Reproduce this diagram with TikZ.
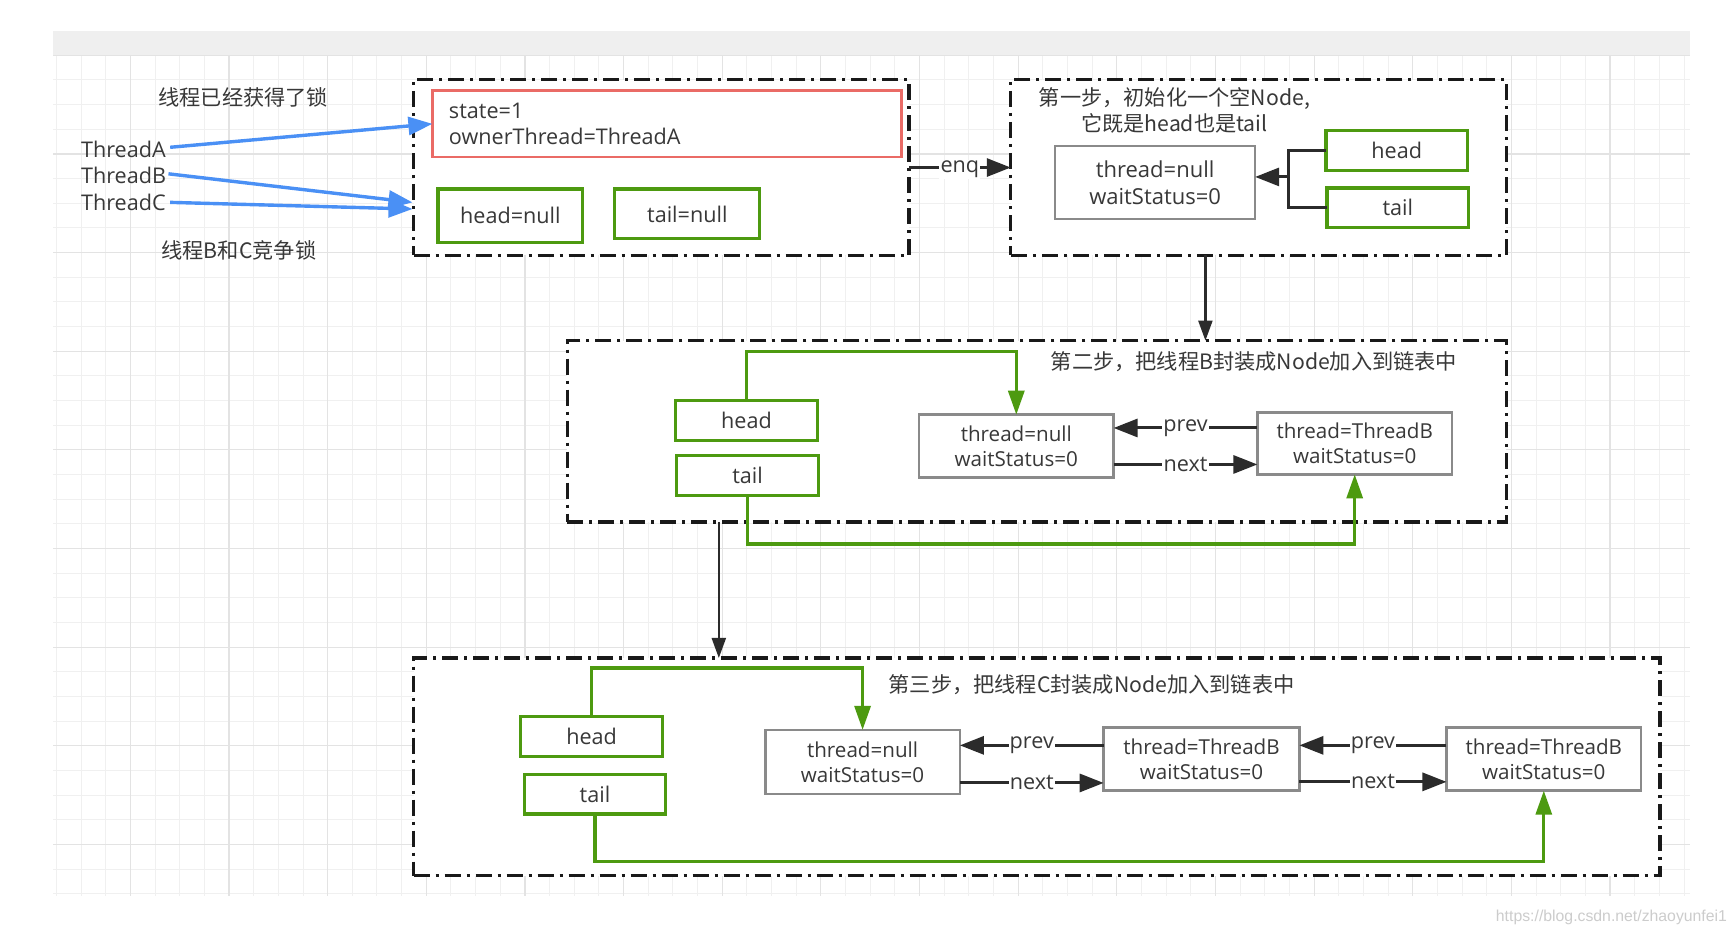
\documentclass[tikz,border=0pt]{standalone}
\usepackage{fontspec}
\setmainfont{Open Sans}
\newfontfamily\cjk{Noto Sans CJK SC}
\newfontfamily\wmfont{Liberation Sans}
\usetikzlibrary{arrows.meta,calc}
\definecolor{gridminor}{HTML}{F0F0F0}
\definecolor{gridmajor}{HTML}{E3E3E3}
\definecolor{barcol}{HTML}{EFEFEF}
\definecolor{txt}{HTML}{383838}
\definecolor{grn}{HTML}{4D9A10}
\definecolor{redb}{HTML}{EA6B66}
\definecolor{nodeg}{HTML}{8A8A8A}
\definecolor{blu}{HTML}{4A90F5}
\definecolor{lnk}{HTML}{2B2B2B}
\begin{document}
\begin{tikzpicture}[x=0.5529pt,y=-0.5529pt,
  sz/.style 2 args={minimum width={#1*0.5529pt},minimum height={#2*0.5529pt}},
  lbl/.style={text=txt,inner sep=0pt,font=\fontsize{10.8}{13.3}\selectfont},
  zh/.style={text=txt,inner sep=0pt,align=center,font=\cjk\fontsize{10.6}{13.3}\selectfont},
  grp/.style={draw=black!90,fill=white,line width=1.6pt,dash pattern=on 8pt off 3pt on 1.5pt off 3pt,inner sep=0pt,outer sep=0pt},
  gbox/.style={draw=grn,line width=1.6pt,fill=white,text=txt,inner sep=0pt,outer sep=0pt,font=\fontsize{10.8}{13}\selectfont},
  nbox/.style={draw=nodeg,line width=1.3pt,fill=white,text=txt,align=center,inner sep=0pt,outer sep=0pt,font=\fontsize{10.3}{12.4}\selectfont},
  blk/.style={draw=lnk,line width=1.5pt,-{Triangle[length=12pt,width=9pt]}},
  dn/.style={draw=lnk,line width=1.1pt,-{Triangle[length=10pt,width=7pt]}},
  plainln/.style={draw=lnk,line width=1.5pt},
  garr/.style={draw=grn,line width=1.6pt,-{Triangle[length=12pt,width=8pt]}},
  barr/.style={draw=blu,line width=1.7pt,-{Triangle[length=12pt,width=9pt]}},
  elbl/.style={fill=white,text=txt,inner sep=0.6pt,font=\fontsize{10.8}{13}\selectfont},
]
\useasboundingbox (0,0) rectangle (1568,847.3);
% background
\fill[white] (0,0) rectangle (1568,847.3);
\fill[barcol] (48,28) rectangle (1528,50);
\foreach \i in {0,...,66} \draw[gridminor,line width=0.5pt] ({51+22.3*\i},50) -- ({51+22.3*\i},810);
\foreach \j in {0,...,34} \draw[gridminor,line width=0.5pt] (48,{50+22.3*\j}) -- (1528,{50+22.3*\j});
\foreach \k in {0,...,15} \draw[gridmajor,line width=0.6pt] ({117.9+89.2*\k},50) -- ({117.9+89.2*\k},810);
\foreach \k in {0,...,8} \draw[gridmajor,line width=0.6pt] (48,{50+89.2*\k}) -- (1528,{50+89.2*\k});

% group boxes
\node[grp,sz={448}{159}] (g0) at (598,151.5) {};
\node[grp,sz={448}{159}] (g1) at (1138,151.5) {};
\node[grp,sz={849}{164}] (g2) at (937.5,390) {};
\node[grp,sz={1127}{197}] (g3) at (937.5,693.5) {};

% left labels
\node[zh] (lk1) at (220,88) {线程已经获得了锁};
\node[lbl,anchor=west] (thA) at (73,135) {ThreadA};
\node[lbl,anchor=west] (thB) at (73,159) {ThreadB};
\node[lbl,anchor=west] (thC) at (73,183) {ThreadC};
\node[zh] (lk2) at (216,226) {线程B和C竞争锁};

% box 0
\node[draw=redb,line width=1.3pt,fill=white,text=txt,sz={424}{60},align=left,text width={394*0.5529pt},inner xsep={15*0.5529pt},inner ysep=0pt,outer sep=0pt,font=\fontsize{10.8}{13.3}\selectfont] (st) at (603,112) {state=1\\ownerThread=ThreadA};
\node[gbox,sz={131}{48}] (hn) at (461.5,195) {head=null};
\node[gbox,sz={131}{45}] (tn) at (621.5,193.5) {tail=null};

% box 1
\node[zh] (tt1) at (1062,100) {第一步，初始化一个空Node,\\它既是head也是tail};
\node[nbox,sz={181}{66},font=\fontsize{11}{13.3}\selectfont] (n1) at (1044.5,165) {thread=null\\waitStatus=0};
\node[gbox,sz={128}{36}] (h1) at (1263,136) {head};
\node[gbox,sz={128}{36}] (t1) at (1264,188) {tail};

% box 2
\node[zh] (tt2) at (1134,327) {第二步，把线程B封装成Node加入到链表中};
\node[gbox,sz={128}{36}] (h2) at (675,380) {head};
\node[gbox,sz={128}{36}] (t2) at (676,430) {tail};
\node[nbox,sz={176}{57}] (n2a) at (919,403.5) {thread=null\\waitStatus=0};
\node[nbox,sz={176}{56}] (n2b) at (1225,401) {thread=ThreadB\\waitStatus=0};

% box 3
\node[zh] (tt3) at (987,619) {第三步，把线程C封装成Node加入到链表中};
\node[gbox,sz={128}{36}] (h3) at (535,666) {head};
\node[gbox,sz={128}{36}] (t3) at (538,718) {tail};
\node[nbox,sz={176}{58}] (n3a) at (780,689) {thread=null\\waitStatus=0};
\node[nbox,sz={177}{57}] (n3b) at (1086.5,686.5) {thread=ThreadB\\waitStatus=0};
\node[nbox,sz={176}{57}] (n3c) at (1396,686.5) {thread=ThreadB\\waitStatus=0};

% watermark url
\node[anchor=east,inner sep=0pt,text=black!20,font=\wmfont\fontsize{7.9}{9}\selectfont] (wm) at (1562,830) {https://blog.csdn.net/zhaoyunfei1};

% blue arrows
\coordinate (bB) at (373,183);
\coordinate (bC) at (373,189);
\draw[barr] ([xshift=2pt,yshift=1pt]thA.east) -- (st.west);
\draw[barr] ([xshift=1pt,yshift=1pt]thB.east) -- (bB);
\draw[barr] ([xshift=2pt,yshift=0pt]thC.east) -- (bC);

% enq
\draw[blk] (g0.east) -- node[elbl,yshift=-1pt]{enq} (g1.west);

% step 1 connectors
\coordinate (j1) at (1165,160);
\draw[plainln] (h1.west) -| (j1);
\draw[plainln] (t1.west) -| (j1);
\draw[blk] (j1) -- (j1 -| n1.east);

% vertical arrows between groups
\coordinate (a12) at (1090,0);
\coordinate (a23) at (650,0);
\draw[dn] (g1.south -| a12) -- (g2.north -| a12);
\draw[dn] (g2.south -| a23) -- (g3.north -| a23);

% step 2 connectors
\draw[blk] (n2b.west |- 0,387) -- node[elbl]{prev} (n2a.east |- 0,387);
\draw[blk] (n2a.east |- 0,420) -- node[elbl]{next} (n2b.west |- 0,420);
\draw[garr] (h2.north) -- ++(0,-44) -| (n2a.north);
\draw[garr] (t2.south) -- ++(0,44) -| (n2b.south);

% step 3 connectors
\draw[blk] (n3b.west |- 0,674) -- node[elbl]{prev} (n3a.east |- 0,674);
\draw[blk] (n3a.east |- 0,708) -- node[elbl]{next} (n3b.west |- 0,708);
\draw[blk] (n3c.west |- 0,674) -- node[elbl]{prev} (n3b.east |- 0,674);
\draw[blk] (n3b.east |- 0,707) -- node[elbl]{next} (n3c.west |- 0,707);
\draw[garr] (h3.north) -- ++(0,-44) -| (n3a.north);
\draw[garr] (t3.south) -- ++(0,43) -| (n3c.south);
\end{tikzpicture}
\end{document}
